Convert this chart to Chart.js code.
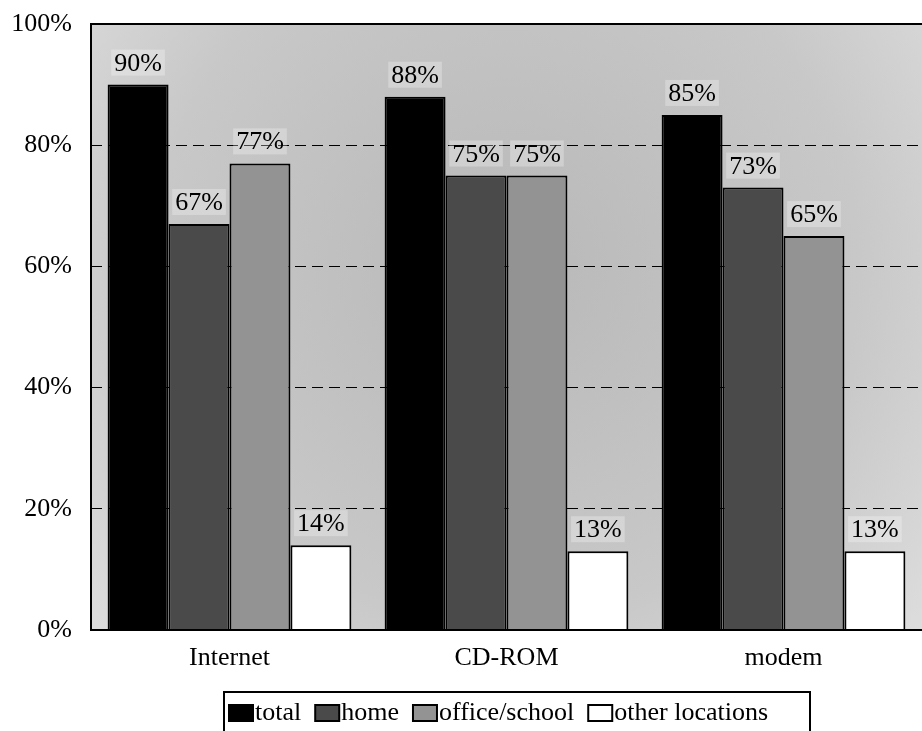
<!DOCTYPE html>
<html>
<head>
<meta charset="utf-8">
<script src="https://cdn.jsdelivr.net/npm/chart.js@4/dist/chart.umd.min.js"></script>
<style>
  html, body { margin: 0; padding: 0; background: #fff; }
  #wrap { width: 922px; height: 731px; }
</style>
</head>
<body>
<div id="wrap"><canvas id="c" width="922" height="731"></canvas></div>
<script>
// Share of users per device and place of use
const categories = ['Internet', 'CD-ROM', 'modem'];
const seriesNames = ['total', 'home', 'office/school', 'other locations'];
const total = [90, 88, 85];
const home = [67, 75, 73];
const officeSchool = [77, 75, 65];
const otherLocations = [14, 13, 13];
const yTickValues = [0, 20, 40, 60, 80, 100];

const FONT = "'Liberation Serif', 'Times New Roman', serif";
const fills = ['#000000', '#4a4a4a', '#939393', '#ffffff'];

Chart.defaults.font.family = FONT;
Chart.defaults.color = '#000';

// Textured-looking gray plot background
const plotBackground = {
  id: 'plotBackground',
  beforeDraw(chart) {
    const { ctx, chartArea: a } = chart;
    const cx = (a.left + a.right) / 2, cy = (a.top + a.bottom) / 2 - 60;
    const g = ctx.createRadialGradient(cx, cy, 40, cx, cy, 560);
    g.addColorStop(0, '#bababa');
    g.addColorStop(0.6, '#c8c8c8');
    g.addColorStop(1, '#dedede');
    ctx.save();
    ctx.fillStyle = g;
    ctx.fillRect(a.left, a.top, a.right - a.left, a.bottom - a.top);
    ctx.restore();
  }
};

// Value labels above each bar, plus the plot frame
const valueLabels = {
  id: 'valueLabels',
  afterDatasetsDraw(chart) {
    const { ctx, chartArea: a } = chart;
    ctx.save();
    ctx.font = '26px ' + FONT;
    ctx.textAlign = 'center';
    ctx.textBaseline = 'alphabetic';
    chart.data.datasets.forEach((ds, i) => {
      const meta = chart.getDatasetMeta(i);
      meta.data.forEach((bar, j) => {
        const txt = ds.data[j] + '%';
        const w = ctx.measureText(txt).width;
        const y = bar.y - 14;
        ctx.fillStyle = 'rgba(255,255,255,0.28)';
        ctx.fillRect(bar.x - w / 2 - 3, y - 21, w + 6, 26);
        ctx.fillStyle = '#000';
        ctx.fillText(txt, bar.x, y);
      });
    });
    // frame: top, left, bottom
    ctx.strokeStyle = '#000';
    ctx.lineWidth = 2;
    ctx.beginPath();
    ctx.moveTo(a.right, a.top);
    ctx.lineTo(a.left, a.top);
    ctx.lineTo(a.left, a.bottom);
    ctx.lineTo(a.right, a.bottom);
    ctx.stroke();
    ctx.restore();
  }
};

// Boxed legend under the axis
const boxedLegend = {
  id: 'boxedLegend',
  afterDraw(chart) {
    const { ctx } = chart;
    ctx.save();
    ctx.font = '26px ' + FONT;
    ctx.textBaseline = 'middle';
    ctx.textAlign = 'left';
    const top = 692, midY = 713;
    ctx.fillStyle = '#fff';
    ctx.fillRect(224, top, 586, 50);
    ctx.strokeStyle = '#000';
    ctx.lineWidth = 2;
    ctx.strokeRect(224, top, 586, 50);
    let x = 229;
    chart.data.datasets.forEach((ds) => {
      ctx.fillStyle = ds.backgroundColor;
      ctx.fillRect(x, midY - 8, 24, 16);
      ctx.lineWidth = 2;
      ctx.strokeStyle = '#000';
      ctx.strokeRect(x, midY - 8, 24, 16);
      x += 26;
      ctx.fillStyle = '#000';
      ctx.fillText(ds.label, x, midY);
      x += ctx.measureText(ds.label).width + 14;
    });
    ctx.restore();
  }
};

const seriesValues = [total, home, officeSchool, otherLocations];

new Chart(document.getElementById('c'), {
  type: 'bar',
  data: {
    labels: categories,
    datasets: seriesNames.map((name, i) => ({
      label: name,
      data: seriesValues[i],
      backgroundColor: fills[i],
      borderColor: '#000',
      borderWidth: 2,
      borderSkipped: 'bottom',
      categoryPercentage: 0.88,
      barPercentage: 1.0
    }))
  },
  options: {
    responsive: false,
    animation: false,
    devicePixelRatio: 1,
    layout: { padding: { top: 24, right: 0, left: 0, bottom: 0 } },
    plugins: {
      legend: { display: false },
      tooltip: { enabled: false }
    },
    scales: {
      x: {
        grid: { display: false, drawTicks: false },
        border: { display: false },
        ticks: { font: { size: 26, family: FONT }, color: '#000', padding: 13 },
        afterFit(s) { s.height = 101; s.paddingLeft = 0; s.paddingRight = 0; }
      },
      y: {
        min: 0,
        max: 100,
        afterBuildTicks(s) { s.ticks = yTickValues.map(v => ({ value: v })); },
        grid: {
          drawTicks: false,
          lineWidth: 1,
          color: (c) => (c.tick && (c.tick.value === 0 || c.tick.value === 100)) ? 'rgba(0,0,0,0)' : '#000'
        },
        border: { display: false, dash: [11, 6] },
        ticks: {
          font: { size: 26, family: FONT },
          color: '#000',
          padding: 19,
          callback: (v) => v + '%'
        },
        afterFit(s) { s.width = 91; s.paddingTop = 0; s.paddingBottom = 0; }
      }
    }
  },
  plugins: [plotBackground, valueLabels, boxedLegend]
});
</script>
</body>
</html>
